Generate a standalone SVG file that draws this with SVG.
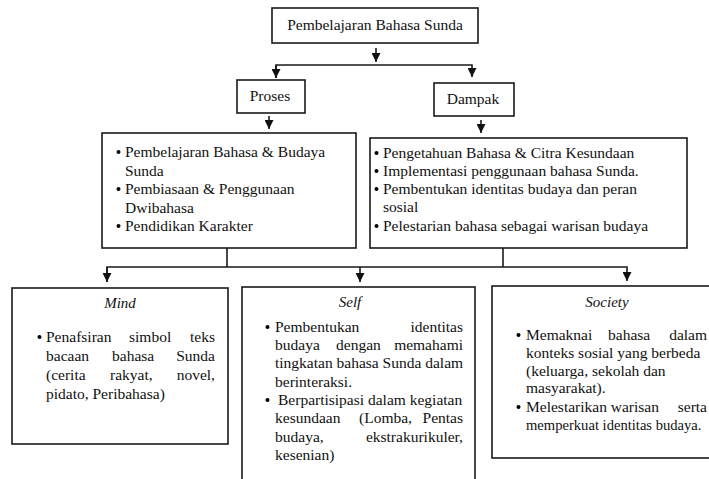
<svg xmlns="http://www.w3.org/2000/svg" width="709" height="479" viewBox="0 0 709 479">
<defs>
<style>
.box{fill:#fff;stroke:#1a1a1a;stroke-width:1.6}
.ln{fill:none;stroke:#1a1a1a;stroke-width:1.6}
text{font-family:'Liberation Serif','Times New Roman',serif;font-size:15.5px;fill:#111}
.it{font-style:italic;font-size:15px}
.c{text-anchor:middle}
.e{text-anchor:end}
</style>
<marker id="ah" viewBox="0 0 10 10" refX="10" refY="5" markerUnits="userSpaceOnUse" markerWidth="9" markerHeight="9" orient="auto">
<path d="M0,0 L10,5 L0,10 z" fill="#111"/>
</marker>
</defs>
<rect width="709" height="479" fill="#fff"/>

<g id="connectors">
<line class="ln" x1="376" y1="48" x2="376" y2="62" marker-end="url(#ah)"/>
<polyline class="ln" points="276,78 276,65 472,65 472,77" marker-end="url(#ah)"/>
<line class="ln" x1="276" y1="65" x2="276" y2="78" marker-end="url(#ah)"/>
<line class="ln" x1="269" y1="116" x2="269" y2="129" marker-end="url(#ah)"/>
<line class="ln" x1="481" y1="120" x2="481" y2="133" marker-end="url(#ah)"/>
<line class="ln" x1="227" y1="248" x2="227" y2="267"/>
<line class="ln" x1="503" y1="248" x2="503" y2="267"/>
<polyline class="ln" points="107,282 107,267 627,267 627,281" marker-end="url(#ah)"/>
<line class="ln" x1="107" y1="267" x2="107" y2="282" marker-end="url(#ah)"/>
<line class="ln" x1="360" y1="267" x2="360" y2="282" marker-end="url(#ah)"/>
</g>

<g id="top">
<rect class="box" x="272" y="8" width="206" height="35"/>
<text class="c" x="375" y="30">Pembelajaran Bahasa Sunda</text>
</g>

<g id="proses">
<rect class="box" x="237" y="80" width="68" height="33"/>
<text class="c" x="270" y="101">Proses</text>
</g>

<g id="dampak">
<rect class="box" x="434" y="83" width="80" height="33"/>
<text class="c" x="473" y="104">Dampak</text>
</g>

<g id="proses-list">
<rect class="box" x="102" y="133" width="254" height="115"/>
<circle cx="118.5" cy="152" r="2"/>
<text x="125" y="157">Pembelajaran Bahasa &amp; Budaya</text>
<text x="125" y="175.5">Sunda</text>
<circle cx="118.5" cy="189" r="2"/>
<text x="125" y="194">Pembiasaan &amp; Penggunaan</text>
<text x="125" y="212.5">Dwibahasa</text>
<circle cx="118.5" cy="226" r="2"/>
<text x="125" y="231">Pendidikan Karakter</text>
</g>

<g id="dampak-list">
<rect class="box" x="370" y="138" width="317" height="110"/>
<circle cx="376.5" cy="153" r="2"/>
<text x="383" y="158">Pengetahuan Bahasa &amp; Citra Kesundaan</text>
<circle cx="376.5" cy="171" r="2"/>
<text x="383" y="176">Implementasi penggunaan bahasa Sunda.</text>
<circle cx="376.5" cy="189" r="2"/>
<text x="383" y="194">Pembentukan identitas budaya dan peran</text>
<text x="383" y="212">sosial</text>
<circle cx="376.5" cy="226" r="2"/>
<text x="383" y="231">Pelestarian bahasa sebagai warisan budaya</text>
</g>

<g id="mind">
<rect class="box" x="12" y="288" width="216" height="156"/>
<text class="it c" x="120" y="308">Mind</text>
<circle cx="39.5" cy="337" r="2"/>
<text x="46" y="342">Penafsiran</text>
<text x="129" y="342">simbol</text>
<text class="e" x="215" y="342">teks</text>
<text x="46" y="361">bacaan</text>
<text x="112" y="361">bahasa</text>
<text class="e" x="215" y="361">Sunda</text>
<text x="46" y="380">(cerita</text>
<text x="110" y="380">rakyat,</text>
<text class="e" x="215" y="380">novel,</text>
<text x="46" y="399">pidato, Peribahasa)</text>
</g>

<g id="self">
<rect class="box" x="242" y="287" width="233" height="210"/>
<text class="it c" x="350" y="307">Self</text>
<circle cx="267.5" cy="327" r="2"/>
<text x="275" y="332">Pembentukan</text>
<text class="e" x="463" y="332">identitas</text>
<text x="275" y="350">budaya</text>
<text x="336" y="350">dengan</text>
<text class="e" x="463" y="350">memahami</text>
<text x="275" y="368">tingkatan bahasa Sunda dalam</text>
<text x="275" y="387">berinteraksi.</text>
<circle cx="267.5" cy="400" r="2"/>
<text x="278" y="405">Berpartisipasi dalam kegiatan</text>
<text x="275" y="423">kesundaan</text>
<text x="359" y="423">(Lomba,</text>
<text class="e" x="463" y="423">Pentas</text>
<text x="275" y="442">budaya,</text>
<text class="e" x="463" y="442">ekstrakurikuler,</text>
<text x="275" y="460">kesenian)</text>
</g>

<g id="society">
<rect class="box" x="492" y="286" width="230" height="172"/>
<text class="it c" x="607" y="307">Society</text>
<circle cx="518.5" cy="335" r="2"/>
<text x="526" y="340">Memaknai</text>
<text x="608" y="340">bahasa</text>
<text class="e" x="707" y="340">dalam</text>
<text x="526" y="358">konteks sosial yang berbeda</text>
<text x="526" y="376">(keluarga, sekolah dan</text>
<text x="526" y="393">masyarakat).</text>
<circle cx="518.5" cy="407" r="2"/>
<text x="526" y="412">Melestarikan warisan</text>
<text class="e" x="707" y="412">serta</text>
<text x="526" y="430" style="font-size:14.6px">memperkuat identitas budaya.</text>
</g>
</svg>
